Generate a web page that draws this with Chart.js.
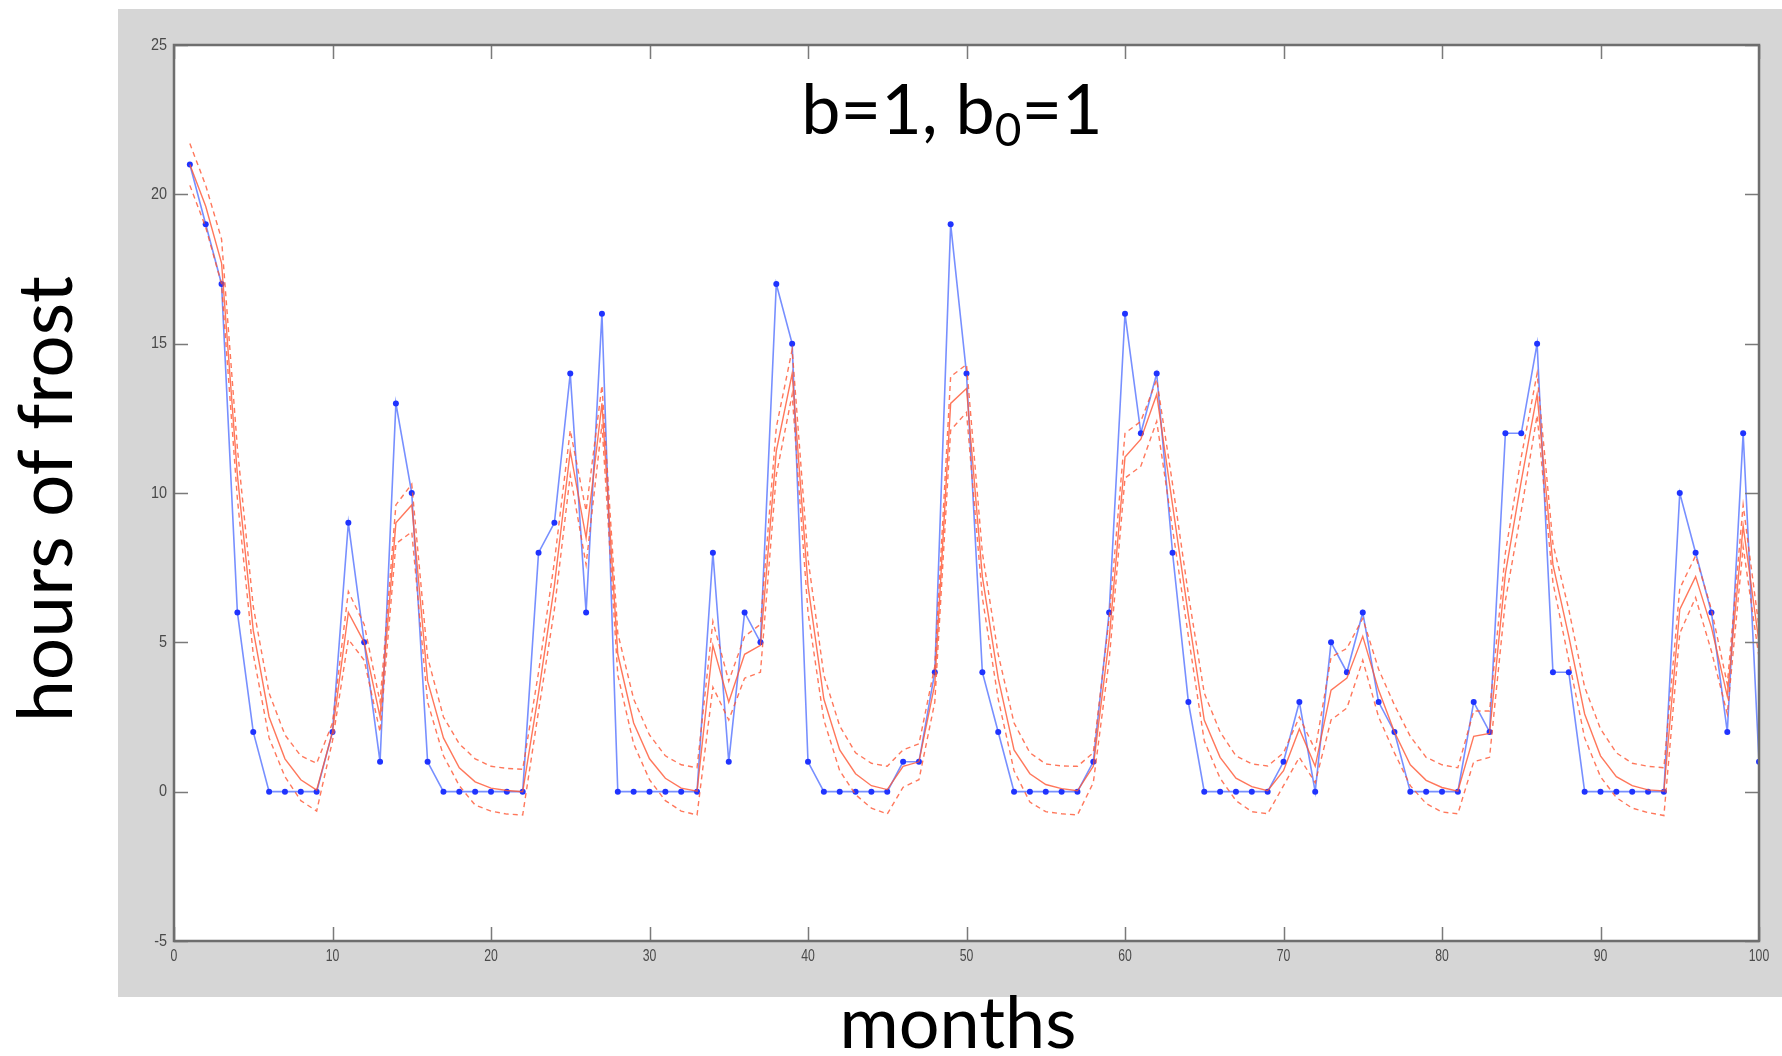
<!DOCTYPE html>
<html>
<head>
<meta charset="utf-8">
<script src="https://cdn.jsdelivr.net/npm/chart.js@4.4.1/dist/chart.umd.min.js"></script>
<style>
  html, body { margin: 0; padding: 0; background: #fff; }
</style>
</head>
<body>
<canvas id="frost" width="1782" height="1056"></canvas>
<script>
// months 1..100
const months = [
  1, 2, 3, 4, 5, 6, 7, 8, 9, 10, 11, 12, 13, 14, 15, 16, 17, 18, 19, 20,
  21, 22, 23, 24, 25, 26, 27, 28, 29, 30, 31, 32, 33, 34, 35, 36, 37, 38, 39, 40,
  41, 42, 43, 44, 45, 46, 47, 48, 49, 50, 51, 52, 53, 54, 55, 56, 57, 58, 59, 60,
  61, 62, 63, 64, 65, 66, 67, 68, 69, 70, 71, 72, 73, 74, 75, 76, 77, 78, 79, 80,
  81, 82, 83, 84, 85, 86, 87, 88, 89, 90, 91, 92, 93, 94, 95, 96, 97, 98, 99, 100
];

// observed hours of frost
const observed = [
  21, 19, 17, 6, 2, 0, 0, 0, 0, 2,
  9, 5, 1, 13, 10, 1, 0, 0, 0, 0,
  0, 0, 8, 9, 14, 6, 16, 0, 0, 0,
  0, 0, 0, 8, 1, 6, 5, 17, 15, 1,
  0, 0, 0, 0, 0, 1, 1, 4, 19, 14,
  4, 2, 0, 0, 0, 0, 0, 1, 6, 16,
  12, 14, 8, 3, 0, 0, 0, 0, 0, 1,
  3, 0, 5, 4, 6, 3, 2, 0, 0, 0,
  0, 3, 2, 12, 12, 15, 4, 4, 0, 0,
  0, 0, 0, 0, 10, 8, 6, 2, 12, 1
];

// fitted mean
const fitMean = [
  21.0, 19.6, 17.7, 10.6, 5.4, 2.5, 1.1, 0.4, 0.05, 2.0,
  6.0, 5.0, 2.5, 9.0, 9.6, 3.7, 1.8, 0.8, 0.33, 0.12,
  0.04, 0.0, 3.3, 6.9, 11.4, 8.5, 13.0, 4.6, 2.3, 1.1,
  0.45, 0.12, 0.02, 4.9, 3.0, 4.6, 4.9, 11.4, 14.0, 6.9,
  3.1, 1.4, 0.6, 0.2, 0.07, 0.85, 1.0, 3.6, 13.0, 13.5,
  7.2, 3.8, 1.4, 0.6, 0.24, 0.1, 0.03, 0.85, 5.1, 11.2,
  11.8, 13.3, 9.6, 5.9, 2.4, 1.15, 0.45, 0.17, 0.03, 0.7,
  2.1, 0.85, 3.4, 3.8, 5.2, 3.4, 2.0, 0.9, 0.38, 0.14,
  0.02, 1.85, 1.95, 7.3, 10.4, 13.3, 7.6, 5.2, 2.6, 1.2,
  0.5, 0.2, 0.06, 0.02, 6.1, 7.2, 5.5, 3.2, 8.9, 5.0
];

// upper band
const fitUpper = [
  21.7, 20.3, 18.5, 11.5, 6.2, 3.3, 1.9, 1.2, 0.95, 2.3,
  6.7, 5.6, 3.0, 9.6, 10.3, 4.5, 2.5, 1.6, 1.1, 0.85,
  0.78, 0.75, 4.0, 7.7, 12.1, 9.4, 13.6, 5.3, 3.1, 1.9,
  1.2, 0.9, 0.8, 5.7, 3.7, 5.2, 5.6, 12.2, 14.8, 7.8,
  3.9, 2.2, 1.3, 0.95, 0.85, 1.4, 1.6, 4.2, 13.9, 14.3,
  8.0, 4.6, 2.3, 1.3, 0.93, 0.86, 0.85, 1.3, 5.8, 12.0,
  12.4, 13.8, 10.3, 6.6, 3.3, 2.0, 1.2, 0.93, 0.86, 1.3,
  2.5, 1.4, 4.5, 4.8, 5.8, 4.1, 2.9, 1.85, 1.15, 0.9,
  0.8, 2.7, 2.7, 8.0, 11.2, 14.0, 8.3, 6.1, 3.5, 2.1,
  1.3, 0.95, 0.85, 0.8, 6.8, 7.9, 6.1, 3.6, 9.6, 5.5
];

// lower band
const fitLower = [
  20.3, 18.9, 17.0, 9.8, 4.6, 1.8, 0.5, -0.3, -0.65, 1.7,
  5.1, 4.4, 2.0, 8.3, 8.7, 3.0, 1.2, 0.2, -0.45, -0.65,
  -0.75, -0.78, 2.7, 6.1, 10.6, 7.6, 12.3, 3.9, 1.6, 0.4,
  -0.3, -0.65, -0.78, 3.5, 2.4, 3.8, 4.0, 10.6, 13.3, 6.0,
  2.4, 0.7, -0.1, -0.55, -0.75, 0.15, 0.4, 3.0, 12.1, 12.7,
  6.5, 3.1, 0.7, -0.35, -0.67, -0.74, -0.78, 0.3, 4.4, 10.5,
  10.9, 12.4, 8.8, 5.2, 1.7, 0.45, -0.3, -0.67, -0.74, 0.2,
  1.15, 0.3, 2.4, 2.8, 4.4, 2.5, 1.3, 0.2, -0.4, -0.68,
  -0.74, 1.0, 1.15, 6.4, 9.4, 12.6, 7.0, 4.4, 1.8, 0.5,
  -0.2, -0.55, -0.7, -0.8, 5.3, 6.5, 4.7, 2.6, 8.2, 4.5
];

const xTicks = [0, 10, 20, 30, 40, 50, 60, 70, 80, 90, 100];
const yTicks = [-5, 0, 5, 10, 15, 20, 25];

function pts(values) {
  return months.map((m, i) => ({ x: m, y: values[i] }));
}

const RED = 'rgba(255, 85, 50, 0.8)';

// grey figure background, white axes box, inward ticks, labels
const matlabFrame = {
  id: 'matlabFrame',
  beforeDraw(chart) {
    const ctx = chart.ctx, a = chart.chartArea;
    ctx.save();
    ctx.fillStyle = '#ffffff';
    ctx.fillRect(0, 0, chart.width, chart.height);
    ctx.fillStyle = '#d6d6d6';
    ctx.fillRect(118, 9, chart.width - 118, 988);
    ctx.fillStyle = '#ffffff';
    ctx.fillRect(a.left, a.top, a.width, a.height);
    ctx.restore();
  },
  afterDraw(chart) {
    const ctx = chart.ctx, a = chart.chartArea;
    const xs = chart.scales.x, ys = chart.scales.y;
    const tl = 14;
    ctx.save();

    // inward tick marks on all four sides
    ctx.strokeStyle = '#7a7a7a';
    ctx.lineWidth = 1.5;
    ctx.beginPath();
    xTicks.forEach(v => {
      const px = Math.round(xs.getPixelForValue(v)) + 0.5;
      ctx.moveTo(px, a.bottom); ctx.lineTo(px, a.bottom - tl);
      ctx.moveTo(px, a.top); ctx.lineTo(px, a.top + tl);
    });
    yTicks.forEach(v => {
      const py = Math.round(ys.getPixelForValue(v)) + 0.5;
      ctx.moveTo(a.left, py); ctx.lineTo(a.left + tl, py);
      ctx.moveTo(a.right, py); ctx.lineTo(a.right - tl, py);
    });
    ctx.stroke();

    // axes box
    ctx.strokeStyle = '#6e6e6e';
    ctx.lineWidth = 2.5;
    ctx.strokeRect(a.left, a.top, a.width, a.height);

    // tick labels, narrow
    ctx.fillStyle = '#4a4a4a';
    ctx.font = '17px "Liberation Sans Narrow", "Liberation Sans", sans-serif';
    ctx.textBaseline = 'middle';
    yTicks.forEach(v => {
      const py = ys.getPixelForValue(v);
      ctx.save();
      ctx.translate(a.left - 7, py);
      ctx.scale(0.85, 1);
      ctx.textAlign = 'right';
      ctx.fillText(String(v), 0, 0);
      ctx.restore();
    });
    ctx.textBaseline = 'top';
    xTicks.forEach(v => {
      const px = xs.getPixelForValue(v);
      ctx.save();
      ctx.translate(px, a.bottom + 7);
      ctx.scale(0.72, 1);
      ctx.textAlign = 'center';
      ctx.fillText(String(v), 0, 0);
      ctx.restore();
    });

    // axis titles
    ctx.fillStyle = '#000000';
    ctx.font = '72px Lato, "Open Sans", sans-serif';
    ctx.textBaseline = 'alphabetic';
    ctx.textAlign = 'center';
    ctx.fillText('months', 958, 1048);

    ctx.save();
    ctx.translate(72, 499);
    ctx.rotate(-Math.PI / 2);
    ctx.font = '75px Lato, "Open Sans", sans-serif';
    ctx.fillText('hours of frost', 0, 0, 446);
    ctx.restore();

    // in-plot title with subscript
    const big = '70px Lato, "Open Sans", sans-serif';
    const small = '46px Lato, "Open Sans", sans-serif';
    const p1 = 'b=1, b', p2 = '0', p3 = '=1';
    ctx.font = big; const w1 = ctx.measureText(p1).width, w3 = ctx.measureText(p3).width;
    ctx.font = small; const w2 = ctx.measureText(p2).width;
    let x0 = 952 - (w1 + w2 + w3) / 2;
    ctx.textAlign = 'left';
    ctx.font = big; ctx.fillText(p1, x0, 134);
    ctx.font = small; ctx.fillText(p2, x0 + w1, 146);
    ctx.font = big; ctx.fillText(p3, x0 + w1 + w2, 134);

    ctx.restore();
  }
};

new Chart(document.getElementById('frost').getContext('2d'), {
  type: 'line',
  data: {
    datasets: [
      { label: 'mean', data: pts(fitMean), borderColor: RED, borderWidth: 1.4, pointRadius: 0, tension: 0 },
      { label: 'upper', data: pts(fitUpper), borderColor: RED, borderWidth: 1.4, borderDash: [5, 4], pointRadius: 0, tension: 0 },
      { label: 'lower', data: pts(fitLower), borderColor: RED, borderWidth: 1.4, borderDash: [5, 4], pointRadius: 0, tension: 0 },
      {
        label: 'observed', data: pts(observed),
        borderColor: 'rgba(85, 115, 255, 0.8)', borderWidth: 1.6,
        pointRadius: 3, pointBackgroundColor: '#1f33ff', pointBorderWidth: 0, tension: 0
      }
    ]
  },
  options: {
    responsive: false,
    animation: false,
    layout: { padding: { left: 0, right: 23, top: 45, bottom: 0 } },
    plugins: {
      legend: { display: false },
      tooltip: { enabled: false }
    },
    scales: {
      x: {
        type: 'linear', min: 0, max: 100,
        ticks: { display: false, stepSize: 10 },
        grid: { display: false }, border: { display: false },
        afterFit(scale) { scale.height = 115; }
      },
      y: {
        min: -5, max: 25,
        ticks: { display: false, stepSize: 5 },
        grid: { display: false }, border: { display: false },
        afterFit(scale) { scale.width = 174; }
      }
    }
  },
  plugins: [matlabFrame]
});
</script>
</body>
</html>
